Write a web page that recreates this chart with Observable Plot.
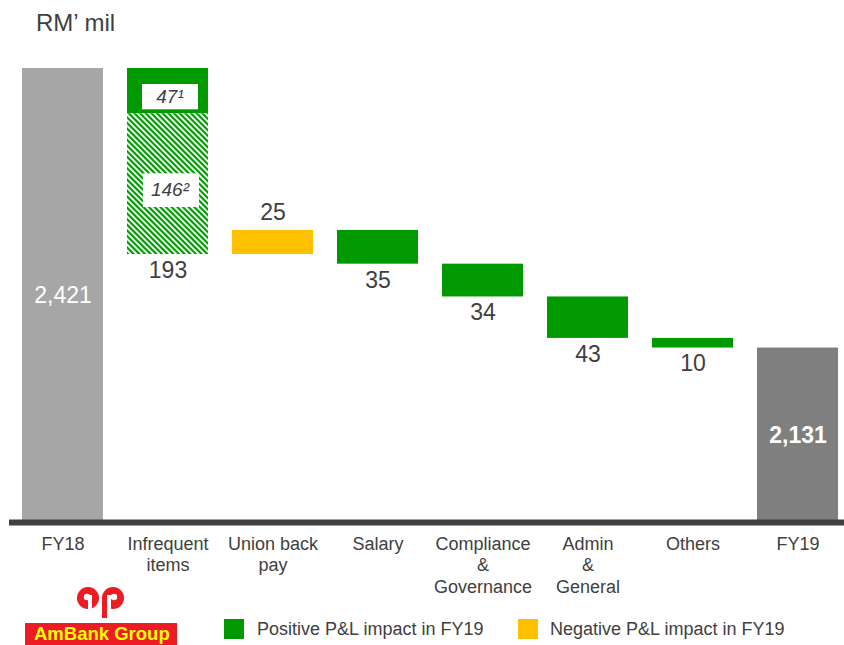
<!DOCTYPE html>
<html>
<head>
<meta charset="utf-8">
<script src="https://cdn.jsdelivr.net/npm/d3@7"></script>
<script src="https://cdn.jsdelivr.net/npm/@observablehq/plot@0.6"></script>
<style>
  body { margin: 0; background: #fff; font-family: Arial, "Liberation Sans", sans-serif; }
  #wrap { position: relative; width: 844px; height: 645px; overflow: hidden; }
  #chart { position: absolute; left: 0; top: 0; }
  #title { position: absolute; left: 36px; top: 11px; font-size: 24px; line-height: 1; color: #404040; }
  .sw { position: absolute; top: 619px; width: 20px; height: 20px; }
  .lt { position: absolute; top: 618px; font-size: 18px; line-height: 22px; color: #404040; white-space: nowrap; }
  #logoBox { position: absolute; left: 25px; top: 623px; width: 152px; height: 30px; background: #ed1c24; }
  #logoText { position: absolute; left: 34px; top: 623px; font-size: 18.5px; font-weight: bold; color: #ffff00; line-height: 22px; white-space: nowrap; }
  #logoMark { position: absolute; left: 75px; top: 586px; }
</style>
</head>
<body>
<div id="wrap">
  <div id="chart"></div>
  <div id="title">RM’ mil</div>
  <svg id="logoMark" width="54" height="34" viewBox="0 0 54 34">
    <circle cx="13" cy="12" r="11" fill="#ed1c24"/>
    <rect x="13" y="9" width="4" height="16" fill="#fff"/>
    <circle cx="12" cy="11" r="3.2" fill="#fff"/>
    <circle cx="38" cy="12" r="11" fill="#ed1c24"/>
    <rect x="27" y="12" width="5" height="20" fill="#ed1c24"/>
    <rect x="32" y="9" width="4" height="16" fill="#fff"/>
    <circle cx="39" cy="11" r="3.2" fill="#fff"/>
  </svg>
  <div id="logoBox"></div>
  <div id="logoText">AmBank Group</div>
  <div class="sw" style="left:224px;background:#009900"></div>
  <div class="lt" style="left:257px">Positive P&amp;L impact in FY19</div>
  <div class="sw" style="left:518px;background:#ffc000"></div>
  <div class="lt" style="left:550px">Negative P&amp;L impact in FY19</div>
</div>
<script>
// ---- data ----
const categories = ["FY18", "Infrequent items", "Union back pay", "Salary", "Compliance & Governance", "Admin & General", "Others", "FY19"];
const tickLabels = ["FY18", "Infrequent\nitems", "Union back\npay", "Salary", "Compliance\n&\nGovernance", "Admin\n&\nGeneral", "Others", "FY19"];
const values = [2421, -193, 25, -35, -34, -43, -10, 2131];
const kinds = ["FY18", "positive", "negative", "positive", "positive", "positive", "positive", "FY19"];
const valueLabels = ["2,421", "193", "25", "35", "34", "43", "10", "2,131"];
const infrequentParts = [47, 146];
const infrequentPartLabels = ["47¹", "146²"];

// ---- derived waterfall rows ----
const yBase = 1950;
let running = 0;
const rows = categories.map((c, i) => {
  const v = values[i], k = kinds[i];
  let y1, y2;
  if (k === "FY18" || k === "FY19") { y1 = yBase; y2 = v; running = v; }
  else { y1 = running; y2 = running + v; running = y2; }
  return { cat: c, value: v, kind: k, label: valueLabels[i], lo: Math.min(y1, y2), hi: Math.max(y1, y2) };
});
const inf = rows[1];
let segTop = inf.hi;
const segs = infrequentParts.map((p, i) => {
  const s = { cat: inf.cat, hi: segTop, lo: segTop - p, label: infrequentPartLabels[i] };
  segTop -= p;
  return s;
});

const ink = "#404040";
const plot = Plot.plot({
  width: 844,
  height: 600,
  marginLeft: 9,
  marginRight: 0,
  marginTop: 0,
  marginBottom: 78,
  style: { fontFamily: "Arial, 'Liberation Sans', sans-serif", color: ink, background: "transparent" },
  x: { domain: categories, range: [21, 839], paddingInner: 0.23, paddingOuter: 0, label: null },
  y: { domain: [yBase, 2421], range: [522, 68], axis: null },
  color: { domain: ["FY18", "FY19", "positive", "negative"], range: ["#a6a6a6", "#7f7f7f", "#009900", "#ffc000"] },
  marks: [
    Plot.barY(rows.filter(d => d.cat !== inf.cat), { x: "cat", y1: "lo", y2: "hi", fill: "kind" }),
    Plot.barY([segs[0]], { x: "cat", y1: "lo", y2: "hi", fill: "#009900" }),
    Plot.barY([segs[1]], { x: "cat", y1: "lo", y2: "hi", fill: "url(#hatch)" }),
    Plot.barY([segs[0]], { x: "cat", y1: "lo", y2: "hi", fill: "white", insetLeft: 15, insetRight: 10, insetTop: 16, insetBottom: 4 }),
    Plot.barY([segs[1]], { x: "cat", y1: "lo", y2: "hi", fill: "white", insetLeft: 16, insetRight: 9, insetTop: 60, insetBottom: 47 }),
    Plot.text(segs, { x: "cat", y: d => (d.lo + d.hi) / 2, dy: 6, dx: 2, text: "label", fontSize: 19, fontStyle: "italic", fill: ink }),
    Plot.text(rows.filter(d => d.kind === "FY18"), { x: "cat", y: d => (d.lo + d.hi) / 2, text: "label", fill: "white", fontSize: 23 }),
    Plot.text(rows.filter(d => d.kind === "FY19"), { x: "cat", y: d => (d.lo + d.hi) / 2, text: "label", fill: "white", fontSize: 23, fontWeight: "bold" }),
    Plot.text(rows.filter(d => d.kind === "positive"), { x: "cat", y: "lo", text: "label", lineAnchor: "top", dy: 7, fontSize: 23, fill: ink }),
    Plot.text(rows.filter(d => d.kind === "negative"), { x: "cat", y: "hi", text: "label", lineAnchor: "bottom", dy: -10, fontSize: 23, fill: ink }),
    Plot.ruleY([yBase], { stroke: ink, strokeWidth: 6 }),
    Plot.axisX({ tickSize: 0, tickPadding: 12, fontSize: 18, lineHeight: 1.2, tickFormat: d => tickLabels[categories.indexOf(d)], fill: ink, label: null })
  ]
});

// hatch pattern definition
const defs = d3.select(plot).insert("defs", ":first-child");
const pat = defs.append("pattern").attr("id", "hatch").attr("patternUnits", "userSpaceOnUse")
  .attr("width", 4).attr("height", 4).attr("patternTransform", "rotate(45)");
pat.append("rect").attr("width", 4).attr("height", 4).attr("fill", "#fff");
pat.append("rect").attr("width", 4).attr("height", 2.2).attr("fill", "#009900");

document.getElementById("chart").appendChild(plot);
</script>
</body>
</html>
